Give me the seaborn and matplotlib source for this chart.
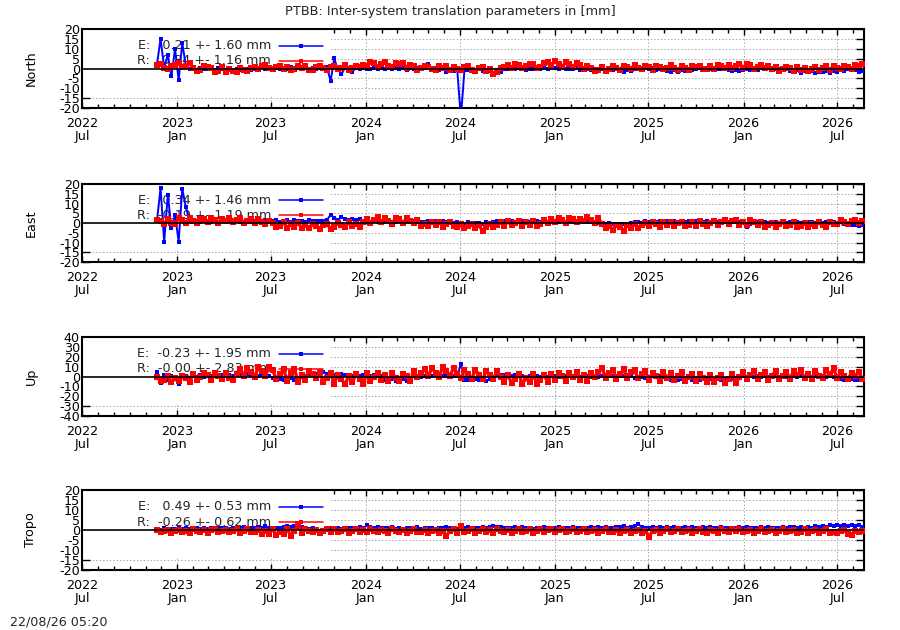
import matplotlib
matplotlib.use("Agg")
import matplotlib.pyplot as plt
import matplotlib.dates as mdates
from matplotlib.patches import Rectangle
from matplotlib.ticker import MultipleLocator
import pandas as pd
import seaborn as sns

sns.set_theme(style="ticks")
plt.rcParams["font.family"] = ["DejaVu Sans"]
plt.rcParams["font.size"] = 9
plt.rcParams["axes.unicode_minus"] = False

# weekly sampling dates of the solutions
DATES = pd.date_range("2022-11-23", periods=196, freq="7D")

# values in mm, one row per half year (first row: Nov/Dec 2022, last row: Jul/Aug 2026)
NORTH_E = [
    2.0, 15.0, 0.5, 7.0, -4.0, 10.0,
    -6.0, 13.0, 1.0, -0.3, 0.2, -0.6, 0.4, -0.2, -0.5, 0.3, -0.8, 0.1, -0.4, -0.9, -0.2, -1.1, -0.4, -0.6, -1.3, -0.2, -1.0, -0.5, 0.2, 0.6, -0.3, 0.8,
    0.3, 0.9, -0.4, 0.5, -0.2, 0.6, -0.7, 0.4, -0.3, 0.5, -0.8, 0.2, -0.5, 0.4, -0.3, 0.6, -6.4, 5.2, -0.4, -3.0, 0.5, 0.2, -1.8, 0.3, -0.4, 0.2,
    0.0, -0.4, 0.3, -0.2, 0.1, -0.5, 0.2, -0.3, 0.4, -0.1, 0.3, -0.6, 0.2, -0.3, 0.4, -0.2, 0.5, 2.4, -0.3, 0.2, -0.6, 0.1, -1.6, -0.8, -1.4, -0.5,
    -25.0, -0.6, -1.0, -0.3, -0.8, -0.4, -1.2, -0.6, -1.5, -2.6, -0.9, -1.8, -0.5, -0.2, 0.3, -0.5, 0.1, -0.4, -0.7, 0.0, -0.5, -0.2, -0.3, 0.4, -0.1, 0.2,
    0.1, -0.2, 0.3, -0.4, 0.0, -0.3, 0.2, -0.6, 0.1, -0.5, -0.9, -0.2, -0.7, -0.4, -0.8, -0.1, -0.6, -0.3, -1.2, -1.6, -0.8, -1.4, -0.5, 0.2, -0.4, 0.1,
    -0.3, 0.2, -0.6, 0.0, -0.4, -1.2, -1.6, -0.9, -1.8, -1.0, -1.5, -0.6, -0.9, -0.2, 0.3, -0.4, 0.1, -0.3, 0.2, -0.5, 0.0, -0.3, -0.8, -1.1, -0.6, -1.2,
    -0.9, -0.4, -1.0, -0.2, -0.6, 0.1, -0.4, 0.2, -0.3, -0.5, 0.0, -0.7, -0.2, -1.3, -1.8, -1.0, -2.2, -1.5, -1.9, -1.2, -2.4, -1.6, -2.0, -1.4, -2.5, -1.1,
    -1.6, -0.8, -1.3, -0.5, -1.0, -0.6, -1.8, -1.4,
]
NORTH_R = [
    1.8, 2.2, 0.4, -0.3, 1.1, 1.9,
    2.6, 0.8, 1.4, 2.9, 0.4, -1.2, -0.6, 1.1, 0.6, 0.2, -1.6, -1.1, 0.8, -1.9, -0.2, -1.4, -1.8, 0.5, -0.9, -1.5, 0.2, 0.7, -0.3, 1.2, 1.6, 0.1,
    -0.5, 0.9, 1.4, -0.2, 0.6, -0.8, -0.3, 1.3, 0.2, 1.1, -0.6, -0.9, 0.7, 1.5, 0.4, -0.7, 0.8, 1.3, -0.2, 0.5, 1.6, -0.6, 0.3, 1.2, 0.9, 1.9,
    1.1, 3.2, 2.6, 0.7, 2.4, 3.5, 1.5, 0.6, 2.8, 2.1, 2.9, 0.4, 1.6, 1.3, -0.7, 0.2, 1.5, 0.8, -0.4, -0.9, 1.2, 0.3, 1.1, -0.6, 0.6, -0.2,
    -0.9, 0.8, 1.1, -0.6, -1.3, 0.3, 0.9, -1.5, -0.4, -2.8, -1.6, 0.2, 0.9, 2.0, 0.3, 2.5, 1.6, 0.4, 1.2, 2.4, 2.1, 0.5, 1.0, 2.8, 3.4, 1.6,
    3.6, 2.1, 0.9, 3.1, 2.4, 1.0, 2.7, 1.8, -0.2, 1.1, 0.4, -1.5, -0.8, 0.9, -1.1, -0.3, 1.2, 0.2, -0.6, 1.5, 0.8, -0.3, 1.7, 0.2, -0.5, 1.3,
    0.9, -0.6, 1.4, 1.0, -0.4, 0.2, 1.6, 0.5, -0.8, 1.2, 0.1, -0.7, 1.5, 0.6, 1.3, -0.5, 0.0, 1.1, -0.2, 1.7, 1.1, 0.4, 2.0, 0.3, 1.2, 2.4,
    0.5, 2.2, 1.6, -0.1, 1.0, 1.8, 0.2, 1.1, -0.3, 0.9, -1.1, -0.4, 1.0, 0.3, -1.3, 0.7, -0.8, 0.5, -1.2, -0.2, 0.8, -0.9, 0.4, 1.1, -0.7, 1.3,
    0.2, -0.5, 1.4, 0.9, -0.3, 1.6, 1.1, 2.4,
]

EAST_E = [
    1.0, 18.0, -9.5, 14.5, -2.5, 4.0,
    -9.5, 17.5, 8.0, 1.0, 0.6, 1.2, 0.4, 1.0, 0.8, 0.3, 1.1, 0.5, 0.9, 0.4, 1.0, 0.6, 1.2, 0.7, 0.2, 1.0, 0.5, 0.8, 1.1, 0.6, 1.3, 0.4,
    0.8, 1.4, 0.6, 1.1, 1.3, 0.7, 1.5, 0.9, 1.2, 0.6, 1.4, 0.8, 1.0, 1.2, 0.9, 1.6, 4.2, 2.8, 1.5, 3.1, 2.0, 1.4, 2.2, 1.3, 1.8, 1.0,
    0.8, 0.4, 1.0, 0.6, 0.9, 0.5, 1.1, 0.7, 0.3, 0.9, 0.4, 1.2, 0.6, 0.8, 0.3, 0.7, 0.5, 0.9, 0.4, 1.0, 0.6, 0.8, 0.3, 0.7, 0.2, 0.5,
    0.1, -0.3, 0.4, -0.2, 0.2, 0.0, -0.4, 0.3, -0.1, 0.6, 1.0, 0.7, 1.2, 0.8, 1.1, 0.6, 1.3, 0.9, 1.0, 0.7, 1.2, 0.8, 0.6, 1.0, 0.5, 0.9,
    0.7, 0.4, 0.9, 0.5, 0.8, 0.6, 0.3, 0.8, 0.5, 0.7, 0.4, 0.6, 0.2, -0.3, -0.6, -0.2, -0.5, -0.4, -0.7, -0.3, -0.6, -0.2, 0.3, 0.6, 0.2, 0.8,
    0.5, 0.9, 0.4, 1.0, 0.6, 0.8, 0.5, 1.1, 0.7, 0.9, 0.4, 0.8, 0.6, 1.0, 0.5, 0.7, 0.9, 0.4, 0.6, 0.3, 0.8, 0.5, 0.4, 0.7, 0.3, 0.6,
    -0.2, -1.9, -0.6, 0.3, 0.5, 0.2, 0.6, 0.1, 0.5, 0.3, 0.0, 0.4, 0.1, 0.5, 0.2, 0.6, 0.1, 0.4, 0.3, 0.7, 0.2, 0.5, 0.1, 0.4, 0.0, 0.3,
    -0.2, 0.3, -0.5, -0.8, -1.1, -0.9, -1.3, -1.0,
]
EAST_R = [
    1.5, 0.9, -0.7, 1.8, 0.2, -0.4,
    2.4, 1.6, 0.1, 2.8, 1.2, -0.1, 2.3, 1.9, 0.3, 2.7, 1.5, -0.2, 2.1, 1.0, 2.6, 0.4, 1.7, 2.4, 0.2, 1.1, 2.0, -0.1, 1.8, 0.6, -0.4, 1.2,
    -0.2, -2.2, -1.5, 0.3, -2.5, -0.6, -1.8, 0.1, -2.4, -1.1, -2.7, -0.3, -1.6, -3.1, -1.2, -0.7, -2.9, -1.9, 0.2, -0.9, -2.0, 0.3, -1.4, -0.4, -2.1, 0.4,
    2.2, 0.0, 1.4, 2.9, 0.6, 2.5, 1.2, -0.3, 2.7, 1.8, 0.2, 2.4, 1.1, -0.1, 1.6, -1.4, -0.3, -1.7, 0.6, -0.9, 0.4, -1.8, -0.6, 0.7, -1.5, -2.0,
    -0.3, -2.4, -1.6, -0.6, -2.8, -1.2, -4.0, -2.3, -0.7, -2.0, -0.9, 0.5, -1.4, 0.8, -1.2, -0.2, 1.0, -1.5, 0.5, -0.8, 1.1, -1.3, -0.4, 1.5, 0.2, 1.8,
    0.6, 2.5, 1.3, -0.1, 2.8, 1.9, 0.3, 2.2, 1.0, 3.1, 1.4, 0.2, 2.4, -0.5, -2.6, -1.4, -3.5, -0.9, -2.2, -3.9, -1.1, -2.8, -0.6, -2.4, -1.2, 0.1,
    -1.6, 0.5, -0.4, -1.9, 0.7, -1.0, 0.4, -1.5, -0.2, 0.6, -1.7, -0.8, 0.3, -1.3, 0.8, -0.5, -1.6, 0.2, 1.2, -0.9, 0.5, 1.5, -0.7, 0.9, 1.3, -1.0,
    0.3, -1.0, 1.4, 0.6, -0.8, 0.4, -1.9, -1.2, 0.2, -2.1, -0.6, 0.3, -1.7, -0.9, 0.5, -2.0, -1.3, 0.1, -2.2, -0.4, -1.6, 0.3, -1.1, -2.0, 0.4, -0.7,
    -0.4, 1.4, 0.6, -0.6, 1.2, 1.6, -0.2, 0.9,
]

UP_E = [
    4.5, -6.5, 2.0, -3.5, 1.0, -2.0,
    -8.0, -1.0, 0.5, -1.5, 0.8, -0.6, 1.2, -0.3, 1.5, 0.4, 1.9, 0.7, 1.3, 0.6, 1.8, 1.0, 2.0, 1.4, 0.9, 2.2, 1.1, 1.6, 0.8, 1.9, 1.2, 0.6,
    -1.5, -3.5, -2.2, -4.0, -2.8, -1.6, -3.3, -2.0, -1.0, 0.8, 2.5, 1.4, 3.0, 2.2, 4.8, 2.9, 3.6, 2.0, 1.2, 2.4, 1.5, 1.8, 1.0, 1.6, 0.8, 1.3,
    0.9, 0.4, 1.2, 0.6, 0.8, -3.2, -4.5, -3.0, -4.1, -3.6, -2.8, -4.6, -3.3, 0.2, 0.8, -0.3, 0.5, 1.0, 0.3, 1.4, 0.6, 0.9, 0.4, 1.1, 0.2, 0.7,
    13.0, -3.2, -4.0, -3.5, -2.8, -3.8, -3.0, -4.2, -2.5, -1.2, 1.4, 1.8, 1.1, 1.6, 0.9, 1.3, 0.5, 0.8, -0.4, 0.2, -0.6, 0.1, -0.3, 0.4, -0.2, 0.3,
    0.5, -0.2, 0.7, 0.1, 0.4, -0.1, 0.6, 0.0, 0.3, 0.2, -0.4, 0.5, -0.1, 0.8, 1.2, 0.5, 1.0, 0.6, 0.9, 0.3, 1.1, 0.4, -1.5, -2.2, -1.0, -1.8,
    -0.6, 0.2, -0.9, 0.3, -0.4, -2.2, -3.1, -1.8, -3.6, -2.6, -3.9, -2.0, -3.3, -2.8, -3.5, -2.2, -1.6, -2.9, -3.2, -2.1, -3.8, -2.6, -3.0, -2.2, -1.4, -0.6,
    0.4, -0.3, 0.6, -0.1, 0.2, -0.5, 0.3, -0.8, 0.1, 0.6, -0.6, 0.9, -0.2, -1.0, 0.4, -0.7, 0.8, -0.3, 0.5, -0.9, 0.7, -0.4, 0.2, -0.6, 0.9, -0.2,
    -1.2, -2.4, -3.1, -3.6, -2.8, -3.9, -3.2, -3.7,
]
UP_R = [
    -0.5, -5.0, -3.2, 0.8, -5.8, -2.0,
    -4.5, 0.2, -1.8, -5.6, 2.8, -3.5, -1.0, 3.6, 1.2, -3.9, 3.5, 0.4, -2.6, 3.9, -1.5, -3.6, 2.2, 7.6, 1.0, 8.5, 4.2, -0.5, 9.2, 5.1, 0.8, 9.8,
    6.5, -2.8, 2.1, 7.4, -4.2, 4.0, 7.8, -5.6, 1.2, -3.4, 5.9, 2.5, -2.0, 4.1, -5.5, -1.8, 3.2, -7.2, 1.9, -3.0, -8.1, 0.6, -6.0, 2.2, -2.4, -7.5,
    3.2, -4.8, -0.6, 4.0, -4.0, 1.4, -4.6, 3.8, -1.5, -4.2, 3.0, 0.5, -5.0, 6.0, -0.8, 3.2, 7.6, 0.4, 8.4, 4.0, -0.6, 9.8, 5.2, 1.0, 8.6, 3.0,
    -1.8, 6.4, 2.5, -2.6, 6.9, 1.5, -3.0, 5.6, 2.0, -2.4, 6.0, -0.5, -5.2, 1.8, -6.6, -3.0, 2.4, -7.3, -1.8, -6.0, 2.5, -7.4, -3.5, 1.9, -5.6, 3.0,
    -3.8, 3.6, 0.5, -4.4, 3.2, -1.0, 4.2, -3.4, 1.6, -4.5, 3.3, -0.6, 4.4, 9.0, -1.6, 3.8, 6.8, -2.4, 2.6, 7.2, -1.8, 4.1, 6.5, -2.0, 2.4, 5.8,
    -4.0, 3.8, 0.6, -4.6, 4.2, -1.2, 3.4, -3.9, 0.8, 4.1, -4.3, -0.8, 3.0, -4.8, 2.3, -1.5, -5.6, 1.8, -6.0, -1.2, 2.0, -6.8, -3.0, 2.3, -6.3, -1.0,
    4.6, -2.5, 1.4, 5.2, -2.8, 2.0, 4.8, -3.2, 1.0, 5.5, -2.4, 0.8, 4.2, -2.2, 5.8, 1.6, 6.2, -1.8, 2.4, -2.4, 5.9, 0.6, -1.9, 6.3, 2.0, 8.2,
    -1.6, 4.2, 1.0, -2.6, 3.8, 0.5, 4.5, -2.8,
]

TROPO_E = [
    0.6, 0.2, 0.9, 0.4, 0.7, 0.3,
    0.8, 0.4, 1.0, 0.5, 0.7, 1.1, 0.6, 0.9, 0.5, 1.0, 0.7, 1.2, 0.8, 1.0, 0.6, 1.1, 0.7, 0.9, 1.3, 0.8, 1.2, 1.0, 1.6, 1.1, 1.8, 0.9,
    0.7, 1.2, 0.9, 1.4, 1.9, 1.5, 2.2, 1.7, 1.3, 1.0, 0.6, 1.1, 0.5, -0.4, -1.0, 0.3, 0.8, 0.6, 1.0, 0.7, 1.1, 0.8, 1.2, 0.9, 1.4, 1.0,
    2.4, 1.6, 1.2, 1.5, 0.9, 1.1, 0.8, 1.3, 0.7, 1.0, 0.6, 1.2, 0.8, 0.9, 1.3, 0.7, 1.1, 0.8, 1.2, 0.6, 1.0, 0.9, 1.3, 0.8, 1.1, 0.7,
    1.6, 1.1, 1.4, 0.9, 1.2, 1.0, 1.5, 0.8, 1.3, 2.0, 1.4, 1.7, 1.1, 1.2, 0.8, 1.4, 1.0, 1.3, 0.9, 1.2, 0.7, 1.1, 1.0, 1.4, 0.8, 1.2,
    0.9, 1.3, 0.7, 1.1, 1.0, 1.4, 0.9, 1.2, 0.8, 1.1, 1.5, 0.9, 1.3, 1.0, 1.4, 0.8, 1.2, 1.6, 1.3, 1.8, 1.1, 1.5, 2.0, 2.8, 1.6, 1.2,
    1.0, 1.4, 0.8, 1.3, 1.1, 1.5, 1.0, 1.3, 0.9, 1.2, 1.6, 1.0, 1.4, 1.1, 0.8, 1.3, 1.0, 1.5, 1.2, 0.9, 1.4, 1.1, 0.8, 1.2, 0.9, 1.3,
    1.0, 1.4, 0.9, 1.2, 0.8, 1.3, 1.0, 1.5, 1.1, 1.2, 0.9, 1.4, 1.0, 1.3, 1.7, 1.1, 1.5, 1.2, 1.6, 1.2, 1.8, 1.4, 2.2, 1.7, 2.5, 1.9,
    2.4, 1.8, 2.6, 2.1, 2.5, 1.9, 2.3, 1.6,
]
TROPO_R = [
    -0.2, -1.1, -0.6, 0.2, -1.4, -0.5,
    0.1, -1.2, -0.4, -1.5, 0.3, -0.6, -1.1, 0.2, -1.3, -0.2, 0.4, -1.0, -0.5, 0.2, -1.2, -0.7, 0.3, -1.5, -0.3, 0.3, -1.1, -0.8, 0.0, -2.2, -0.6, -1.9,
    0.3, -2.5, -1.0, -1.8, 0.4, -2.9, -0.5, 2.8, -1.4, 0.5, -0.4, -1.2, 0.2, -1.3, -0.5, 0.4, -0.9, 0.3, -1.1, -0.3, 0.5, -1.3, -0.6, 0.3, -1.2, -0.2,
    -1.0, 0.4, -0.5, -1.2, 0.2, -0.7, -1.3, 0.3, -0.4, -1.0, 0.2, -1.4, -0.3, 0.5, -0.8, -1.2, 0.1, -1.5, -0.4, 0.2, -1.3, -0.6, -2.8, -0.5, 0.3, -1.5,
    1.9, -1.0, -0.4, 0.3, -1.5, -0.6, 0.4, -1.2, -0.2, -1.3, 0.5, -0.6, -1.0, 0.2, -1.4, -0.3, 0.6, -1.0, -0.5, 0.3, -1.3, -0.7, 0.4, -1.1, -0.2, 0.5,
    -0.9, -0.2, 0.4, -1.2, -0.5, 0.3, -1.1, -0.6, 0.5, -1.0, -0.3, 0.2, -1.4, -0.5, 0.3, -1.2, -0.8, 0.1, -1.3, -0.3, 0.2, -1.6, -0.6, 0.1, -1.4, -0.4,
    -3.4, -0.5, 0.2, -1.5, -0.7, 0.4, -1.2, -0.3, 0.5, -1.0, -0.4, 0.2, -1.4, -0.6, 0.3, -1.1, -1.5, 0.1, -0.3, -1.3, 0.4, -0.7, -1.2, 0.3, -0.4, 0.5,
    -1.1, -0.4, 0.2, -1.4, -0.6, 0.3, -1.0, -0.5, 0.2, -1.5, -0.6, 0.4, -1.1, -0.3, 0.0, -1.6, -0.8, 0.3, -1.4, -0.5, 0.2, -1.7, -0.6, 0.3, -1.3, -0.8,
    -1.4, -0.3, 0.0, -1.8, -2.5, -0.6, -1.2, -0.4,
]

PANEL_NAMES = ["North", "East", "Up", "Tropo"]
E_LABELS = ["E:   0.21 +- 1.60 mm", "E:   0.34 +- 1.46 mm", "E:  -0.23 +- 1.95 mm", "E:   0.49 +- 0.53 mm"]
R_LABELS = ["R:   0.84 +- 1.16 mm", "R:  -0.19 +- 1.19 mm", "R:  -0.00 +- 2.83 mm", "R:  -0.26 +- 0.62 mm"]
Y_LIMITS = [20, 20, 40, 20]
Y_STEPS = [5, 5, 10, 5]
E_SERIES = [NORTH_E, EAST_E, UP_E, TROPO_E]
R_SERIES = [NORTH_R, EAST_R, UP_R, TROPO_R]

for s in E_SERIES + R_SERIES:
    assert len(s) == len(DATES), len(s)

BLUE = "#0000ff"
RED = "#ff0000"

fig = plt.figure(figsize=(9, 6.3), dpi=100)
fig.patch.set_facecolor("white")

# axes boxes in pixels: top, bottom
boxes = [(29, 108), (184, 262), (337, 416), (490, 570)]
left, right = 82, 864

for k, name in enumerate(PANEL_NAMES):
    top, bot = boxes[k]
    ax = fig.add_axes([left / 900, 1 - bot / 630, (right - left) / 900, (bot - top) / 630])
    ax.set_facecolor("white")

    # opaque key box hides the grid at the left
    ax.add_patch(Rectangle((0, 0.16), 0.318, 0.84, transform=ax.transAxes,
                           facecolor="white", edgecolor="none", zorder=1))

    ax.text(0.242, 0.789, E_LABELS[k], transform=ax.transAxes, ha="right", va="center",
            fontsize=9.2, zorder=1.5)
    ax.text(0.242, 0.599, R_LABELS[k], transform=ax.transAxes, ha="right", va="center",
            fontsize=9.2, zorder=1.5)

    sns.lineplot(x=DATES, y=E_SERIES[k], ax=ax, color=BLUE, marker="s", markersize=3.4,
                 markeredgewidth=0, linewidth=1.4, estimator=None, zorder=3)
    sns.lineplot(x=DATES, y=R_SERIES[k], ax=ax, color=RED, marker="s", markersize=4.0,
                 markeredgewidth=0, linewidth=2.4, estimator=None, zorder=4)

    # key samples
    for yk, col in [(0.789, BLUE), (0.599, RED)]:
        ax.plot([0.252, 0.308], [yk, yk], transform=ax.transAxes, color=col, lw=1.1, zorder=4.5)
        ax.plot([0.280], [yk], transform=ax.transAxes, color=col, marker="s", ms=3,
                mew=0, zorder=4.5)

    ax.axhline(0, color="black", lw=1.2, zorder=5)

    ax.set_xlim(pd.Timestamp("2022-07-01"), pd.Timestamp("2026-08-22"))
    ax.set_ylim(-Y_LIMITS[k], Y_LIMITS[k])
    ax.xaxis.set_major_locator(mdates.MonthLocator(bymonth=[1, 7]))
    ax.xaxis.set_minor_locator(mdates.MonthLocator())
    ax.xaxis.set_major_formatter(mdates.DateFormatter("%Y\n%b"))
    ax.yaxis.set_major_locator(MultipleLocator(Y_STEPS[k]))

    ax.set_axisbelow(True)
    ax.grid(True, which="major", color="#a8a8a8", linestyle=(0, (1.5, 2)), linewidth=0.7)

    ax.tick_params(which="both", direction="in", top=True, right=True, color="black",
                   labelsize=9.2, labelcolor="black")
    ax.tick_params(axis="x", which="major", length=4.5, width=1, pad=6.5)
    ax.tick_params(axis="x", which="minor", length=3, width=1)
    ax.tick_params(axis="y", which="major", length=6, width=1, pad=1.5)
    for sp in ax.spines.values():
        sp.set_visible(True)
        sp.set_linewidth(1.5)
        sp.set_color("black")

    for t in ax.xaxis.get_major_ticks():
        t.label1.set_linespacing(0.95)

    ax.set_xlabel("")
    ax.set_ylabel(name, fontsize=9.2, color="black")
    ax.yaxis.set_label_coords(-0.057, 0.5)

fig.text(0.5, 1 - 12 / 630, "PTBB: Inter-system translation parameters in [mm]",
         ha="center", va="center", fontsize=9.3)
fig.text(10 / 900, 1 - 622 / 630, "22/08/26 05:20", ha="left", va="center", fontsize=9.2)

fig.savefig("out.png", dpi=100, facecolor="white")
